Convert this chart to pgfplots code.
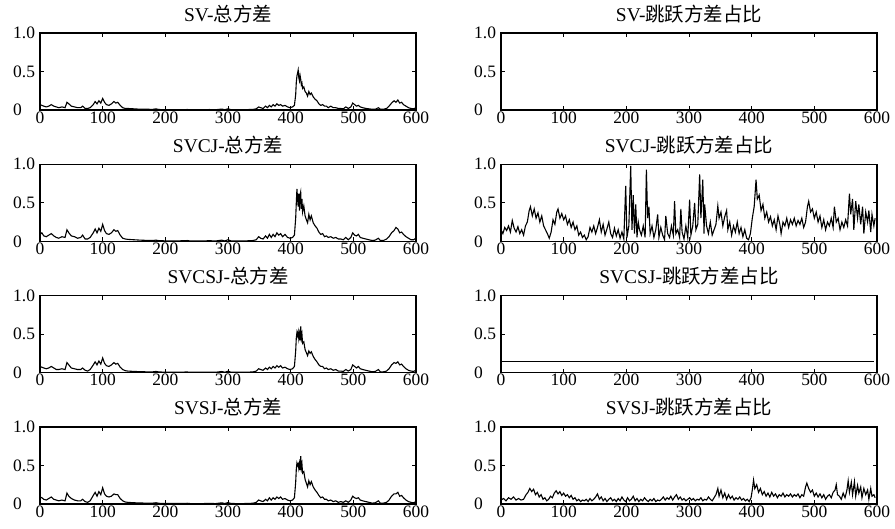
\documentclass[border=0pt]{standalone}
\usepackage{fontspec}
\setmainfont{Liberation Serif}
\newfontfamily\cjk{Noto Sans CJK SC}
\usepackage{pgfplots}
\pgfplotsset{compat=1.18}
\usepgfplotslibrary{groupplots}
\usepackage{pgfplotstable}

% total variance, one column per model
\pgfplotstableread{
x    sv    svcj  svcsj svsj
0    0.07  0.09  0.08  0.09
3    0.06  0.11  0.07  0.08
6    0.05  0.07  0.06  0.06
10   0.04  0.06  0.05  0.05
14   0.05  0.08  0.06  0.07
18   0.07  0.10  0.08  0.09
22   0.05  0.07  0.06  0.06
26   0.04  0.05  0.04  0.05
30   0.03  0.04  0.04  0.04
35   0.04  0.06  0.05  0.05
40   0.03  0.05  0.04  0.04
43   0.10  0.15  0.13  0.14
46   0.08  0.11  0.10  0.10
50   0.05  0.07  0.06  0.07
55   0.04  0.06  0.05  0.05
60   0.03  0.04  0.04  0.04
65   0.03  0.05  0.04  0.04
68   0.05  0.08  0.06  0.06
72   0.02  0.03  0.03  0.03
76   0.02  0.03  0.02  0.02
80   0.03  0.05  0.04  0.04
85   0.07  0.11  0.10  0.11
88   0.11  0.16  0.14  0.15
91   0.08  0.11  0.10  0.10
94   0.12  0.17  0.15  0.16
97   0.09  0.13  0.11  0.12
100  0.15  0.22  0.19  0.21
103  0.10  0.14  0.12  0.13
106  0.07  0.10  0.09  0.10
110  0.06  0.09  0.08  0.09
114  0.08  0.11  0.10  0.10
118  0.11  0.15  0.13  0.13
121  0.09  0.13  0.11  0.12
124  0.10  0.14  0.12  0.12
128  0.06  0.08  0.07  0.07
132  0.03  0.04  0.04  0.04
136  0.02  0.03  0.025 0.025
140  0.02  0.025 0.02  0.02
150  0.015 0.02  0.015 0.015
160  0.01  0.015 0.012 0.012
170  0.01  0.012 0.01  0.01
180  0.008 0.01  0.01  0.01
185  0.015 0.015 0.015 0.015
190  0.006 0.008 0.008 0.008
200  0.005 0.006 0.006 0.006
210  0.005 0.006 0.005 0.005
220  0.004 0.005 0.005 0.005
235  0.006 0.01  0.008 0.008
240  0.004 0.004 0.004 0.004
260  0.003 0.004 0.004 0.004
270  0.006 0.008 0.007 0.007
280  0.003 0.004 0.004 0.004
290  0.012 0.015 0.014 0.014
295  0.004 0.005 0.005 0.005
300  0.015 0.02  0.018 0.018
305  0.004 0.005 0.005 0.005
320  0.003 0.004 0.004 0.004
330  0.005 0.006 0.005 0.005
340  0.008 0.01  0.009 0.009
345  0.015 0.02  0.02  0.02
349  0.04  0.06  0.05  0.05
352  0.03  0.04  0.04  0.04
356  0.02  0.03  0.03  0.03
360  0.05  0.07  0.06  0.06
363  0.03  0.04  0.04  0.04
366  0.06  0.09  0.07  0.08
369  0.04  0.05  0.05  0.05
372  0.07  0.09  0.08  0.08
375  0.05  0.06  0.06  0.06
378  0.08  0.11  0.09  0.09
381  0.06  0.08  0.07  0.07
384  0.07  0.10  0.09  0.09
387  0.05  0.06  0.06  0.06
391  0.06  0.09  0.07  0.07
395  0.04  0.05  0.05  0.05
399  0.03  0.04  0.04  0.04
403  0.04  0.05  0.05  0.05
406  0.06  0.08  0.08  0.08
408  0.20  0.30  0.28  0.28
409  0.36  0.50  0.45  0.45
410  0.44  0.68  0.52  0.53
411  0.48  0.55  0.48  0.50
412  0.52  0.45  0.53  0.52
413  0.42  0.62  0.44  0.46
414  0.38  0.40  0.50  0.52
415  0.45  0.60  0.42  0.44
416  0.40  0.64  0.60  0.62
417  0.33  0.42  0.45  0.47
418  0.35  0.55  0.50  0.52
419  0.28  0.38  0.38  0.40
421  0.30  0.46  0.40  0.42
423  0.24  0.33  0.30  0.32
425  0.22  0.28  0.26  0.27
427  0.18  0.24  0.22  0.22
429  0.24  0.35  0.28  0.30
431  0.20  0.28  0.25  0.25
433  0.22  0.33  0.27  0.29
436  0.17  0.24  0.21  0.22
439  0.14  0.20  0.17  0.18
442  0.12  0.17  0.14  0.15
445  0.08  0.12  0.10  0.11
448  0.06  0.09  0.08  0.08
451  0.07  0.10  0.08  0.09
454  0.05  0.06  0.05  0.06
457  0.05  0.07  0.06  0.06
460  0.03  0.05  0.04  0.04
464  0.05  0.06  0.05  0.05
468  0.03  0.04  0.03  0.03
472  0.03  0.05  0.04  0.04
476  0.02  0.03  0.02  0.02
480  0.02  0.03  0.02  0.03
484  0.015 0.02  0.015 0.02
488  0.04  0.05  0.04  0.04
492  0.02  0.02  0.02  0.02
496  0.04  0.05  0.04  0.05
499  0.09  0.11  0.10  0.10
502  0.07  0.08  0.08  0.08
505  0.05  0.07  0.06  0.07
508  0.06  0.09  0.08  0.08
511  0.04  0.05  0.05  0.05
515  0.03  0.04  0.04  0.04
520  0.02  0.03  0.03  0.03
525  0.015 0.02  0.02  0.02
530  0.01  0.01  0.01  0.01
535  0.01  0.015 0.015 0.015
540  0.03  0.04  0.04  0.04
543  0.01  0.01  0.01  0.01
548  0.01  0.01  0.01  0.01
553  0.02  0.03  0.02  0.02
557  0.05  0.06  0.05  0.05
561  0.09  0.11  0.10  0.10
565  0.12  0.14  0.13  0.13
568  0.10  0.18  0.12  0.13
571  0.13  0.16  0.14  0.15
574  0.09  0.11  0.10  0.10
577  0.10  0.12  0.11  0.11
580  0.07  0.09  0.08  0.08
584  0.05  0.06  0.05  0.05
588  0.03  0.04  0.03  0.03
592  0.02  0.02  0.02  0.02
596  0.015 0.02  0.015 0.015
600  0.03  0.04  0.03  0.03
}\totalvar

% jump share of variance, SVCJ
\pgfplotstableread{
x y
0 0.15
3 0.10
6 0.18
9 0.14
12 0.20
15 0.12
18 0.27
21 0.17
24 0.12
27 0.19
30 0.10
33 0.15
36 0.08
39 0.20
42 0.25
45 0.40
47 0.45
50 0.33
53 0.42
56 0.30
59 0.37
62 0.25
65 0.33
68 0.20
71 0.15
74 0.10
77 0.04
80 0.12
83 0.28
86 0.22
89 0.38
91 0.42
94 0.30
97 0.36
100 0.28
103 0.33
106 0.22
109 0.28
112 0.18
115 0.25
118 0.15
121 0.20
124 0.08
127 0.12
130 0.05
133 0.08
136 0.02
139 0.06
142 0.18
145 0.12
148 0.20
151 0.10
154 0.18
157 0.28
160 0.12
163 0.22
166 0.08
169 0.16
172 0.25
175 0.10
178 0.05
181 0.17
184 0.07
187 0.15
190 0.04
193 0.12
196 0.03
199 0.72
201 0.05
204 0.20
207 0.98
209 0.15
211 0.60
213 0.10
215 0.48
217 0.05
219 0.25
221 0.15
224 0.08
227 0.20
230 0.05
232 0.93
234 0.30
236 0.45
238 0.10
241 0.20
244 0.05
247 0.15
250 0.35
252 0.05
255 0.18
258 0.08
261 0.02
263 0.33
266 0.10
269 0.05
272 0.20
275 0.08
277 0.52
279 0.10
282 0.15
285 0.05
287 0.42
289 0.12
292 0.03
295 0.20
298 0.05
301 0.54
303 0.08
306 0.20
309 0.50
311 0.15
314 0.22
317 0.87
319 0.30
322 0.80
324 0.10
325 0.48
328 0.20
331 0.10
334 0.25
337 0.08
340 0.15
343 0.22
346 0.46
348 0.30
351 0.38
354 0.20
357 0.32
360 0.40
362 0.15
365 0.25
368 0.08
371 0.20
374 0.12
377 0.25
380 0.10
383 0.18
386 0.06
389 0.15
392 0.04
395 0.02
398 0.10
401 0.30
404 0.45
407 0.80
409 0.55
412 0.60
415 0.40
418 0.48
421 0.30
424 0.38
427 0.25
430 0.32
433 0.20
436 0.28
439 0.15
442 0.33
445 0.22
447 0.10
450 0.25
453 0.20
456 0.30
459 0.18
462 0.28
465 0.22
468 0.30
471 0.20
474 0.27
477 0.22
480 0.30
483 0.18
486 0.25
489 0.45
491 0.52
494 0.38
497 0.42
500 0.30
503 0.38
506 0.25
509 0.33
512 0.18
515 0.28
518 0.15
521 0.25
524 0.20
527 0.30
530 0.18
532 0.45
535 0.25
538 0.30
541 0.15
544 0.25
547 0.18
550 0.28
553 0.20
556 0.62
558 0.35
561 0.55
563 0.15
566 0.52
569 0.30
571 0.48
574 0.22
577 0.45
579 0.10
582 0.38
585 0.25
587 0.40
590 0.12
592 0.35
595 0.20
597 0.30
}\svcjjump

% jump share of variance, SVSJ
\pgfplotstableread{
x y
0 0.05
4 0.07
8 0.04
12 0.08
16 0.06
20 0.09
24 0.05
28 0.07
32 0.05
36 0.06
40 0.12
43 0.15
46 0.20
49 0.16
52 0.19
55 0.12
58 0.15
61 0.09
64 0.12
67 0.06
70 0.08
73 0.04
76 0.06
79 0.10
82 0.08
85 0.14
88 0.17
91 0.13
94 0.16
97 0.11
100 0.14
103 0.10
106 0.12
109 0.08
112 0.11
115 0.06
118 0.08
121 0.04
124 0.06
127 0.03
130 0.05
133 0.04
136 0.06
139 0.03
142 0.07
145 0.04
148 0.06
151 0.09
154 0.13
157 0.06
160 0.09
163 0.04
166 0.07
169 0.03
172 0.06
175 0.08
178 0.04
181 0.06
184 0.03
187 0.07
190 0.04
193 0.09
196 0.05
199 0.03
202 0.08
205 0.04
208 0.06
211 0.10
214 0.04
217 0.07
220 0.03
223 0.06
226 0.04
229 0.08
232 0.05
235 0.03
238 0.06
241 0.04
244 0.07
247 0.03
250 0.05
253 0.04
256 0.06
259 0.09
262 0.05
265 0.08
268 0.06
271 0.10
274 0.05
277 0.09
280 0.12
283 0.06
286 0.09
289 0.05
292 0.07
295 0.04
298 0.06
301 0.08
304 0.05
307 0.07
310 0.04
313 0.06
316 0.05
319 0.08
322 0.04
325 0.06
328 0.05
331 0.09
334 0.06
337 0.04
340 0.08
343 0.12
346 0.20
348 0.10
351 0.18
354 0.08
357 0.14
360 0.06
363 0.12
366 0.07
369 0.10
372 0.05
375 0.08
378 0.06
381 0.09
384 0.05
387 0.07
390 0.04
393 0.06
396 0.03
399 0.08
401 0.18
403 0.31
405 0.20
408 0.25
411 0.15
414 0.20
417 0.12
420 0.16
423 0.10
426 0.14
429 0.09
432 0.15
435 0.10
438 0.13
441 0.08
444 0.12
447 0.10
450 0.14
453 0.09
456 0.12
459 0.10
462 0.13
465 0.09
468 0.12
471 0.10
474 0.13
477 0.08
480 0.12
483 0.10
486 0.22
488 0.27
491 0.20
494 0.15
497 0.18
500 0.10
503 0.14
506 0.09
509 0.13
512 0.08
515 0.12
518 0.06
521 0.10
524 0.12
527 0.08
530 0.15
533 0.18
535 0.25
537 0.12
540 0.10
543 0.06
546 0.14
549 0.08
552 0.18
554 0.30
556 0.15
559 0.28
561 0.12
564 0.29
566 0.10
569 0.24
571 0.14
574 0.22
576 0.08
579 0.20
582 0.12
585 0.18
587 0.06
590 0.20
592 0.10
595 0.12
597 0.08
}\svsjjump

\begin{document}
\begin{tikzpicture}
\begin{groupplot}[
    group style={group size=2 by 4, horizontal sep=85bp, vertical sep=54.3bp},
    scale only axis,
    width=376bp, height=77bp,
    xmin=0, xmax=600, ymin=0, ymax=1,
    xtick={0,100,200,300,400,500,600},
    xticklabels={0,100,200,300,400,500,600},
    ytick={0,0.5,1},
    yticklabels={0,0.5,1.0},
    tick align=inside,
    major tick length=4bp,
    tick style={black, line width=0.8bp},
    axis line style={line width=1.2bp},
    ticklabel style={font=\rmfamily\fontsize{17.5}{17.5}\selectfont},
    yticklabel style={anchor=west, inner sep=0pt, xshift=-27bp},
    xticklabel style={inner sep=1.5bp},
    title style={font=\fontsize{19.5}{19.5}\selectfont, at={(0.5,1)}, anchor=base, yshift=6bp},
]
\nextgroupplot[title={SV-{\cjk 总方差}}]
\addplot[black, no markers, line width=1.1bp] table[x=x, y=sv] {\totalvar};
\nextgroupplot[title={SV-{\cjk 跳跃方差占比}}]
\addplot[black, no markers, line width=1.1bp] coordinates {(0,0) (600,0)};

\nextgroupplot[title={SVCJ-{\cjk 总方差}}]
\addplot[black, no markers, line width=1.1bp] table[x=x, y=svcj] {\totalvar};
\nextgroupplot[title={SVCJ-{\cjk 跳跃方差占比}}]
\addplot[black, no markers, line width=1.1bp] table[x=x, y=y] {\svcjjump};

\nextgroupplot[title={SVCSJ-{\cjk 总方差}}]
\addplot[black, no markers, line width=1.1bp] table[x=x, y=svcsj] {\totalvar};
\nextgroupplot[title={SVCSJ-{\cjk 跳跃方差占比}}]
\addplot[black, no markers, line width=1.1bp] coordinates {(0,0.15) (596,0.15)};

\nextgroupplot[title={SVSJ-{\cjk 总方差}}]
\addplot[black, no markers, line width=1.1bp] table[x=x, y=svsj] {\totalvar};
\nextgroupplot[title={SVSJ-{\cjk 跳跃方差占比}}]
\addplot[black, no markers, line width=1.1bp] table[x=x, y=y] {\svsjjump};
\end{groupplot}
% page margins as in the reference
\path ([xshift=-40bp, yshift=33bp]group c1r1.north west)
      ([xshift=18bp, yshift=-25bp]group c2r4.south east);
\end{tikzpicture}
\end{document}
